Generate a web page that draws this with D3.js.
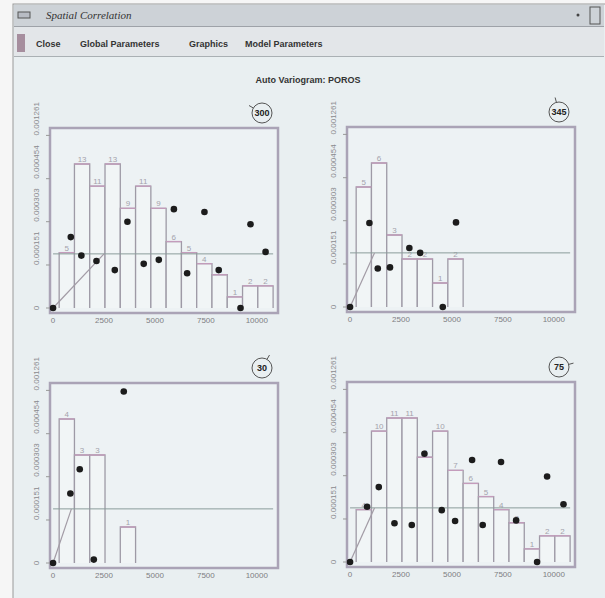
<!doctype html>
<html lang="en">
<head>
  <meta charset="utf-8">
  <title>Spatial Correlation</title>
  <script src="https://d3js.org/d3.v7.min.js"></script>
  <style type="text/css">
    body { margin: 0; background: #f6f6f6; }
    text { font-family: 'Liberation Sans', 'DejaVu Sans', sans-serif; }
  </style>
</head>
<body>
  <div id="chart"></div>
  <script type="text/javascript">

    // axis ticks shared by the four panels
    var xTicks = [0, 2500, 5000, 7500, 10000];
    var yTicks = [0, 0.000151, 0.000303, 0.000454, 0.000606];
    var yTickLabels = ['0', '0.000151', '0.000303', '0.000454', '0.001261'];

    // lag classes (bar edges), same for all directions
    var lagEdges = [300, 1050, 1800, 2550, 3300, 4050, 4800, 5550, 6300, 7050, 7800, 8550, 9300, 10050, 10800];

    // sample variance (sill line)
    var sill = 0.00019;

    // direction 300
    var count300 = [5, 13, 11, 13, 9, 11, 9, 6, 5, 4, 3, 1, 2, 2];
    var lag300 = [0, 870, 1390, 2130, 3030, 3650, 4450, 5190, 5930, 6580, 7430, 8130, 9200, 9690, 10430];
    var gamma300 = [0, 0.000249, 0.000184, 0.000165, 0.000133, 0.000303, 0.000155, 0.000169, 0.000347, 0.000122, 0.000337, 0.000133, 0, 0.000294, 0.000197];

    // direction 345
    var count345 = [5, 6, 3, 2, 2, 1, 2];
    var lag345 = [0, 950, 1360, 1960, 2910, 3440, 4550, 5200];
    var gamma345 = [0, 0.000295, 0.000135, 0.000139, 0.000207, 0.00019, 0, 0.000297];

    // direction 30
    var count30 = [4, 3, 3, 0, 1];
    var lag30 = [0, 850, 1310, 2000, 3470];
    var gamma30 = [0, 0.000244, 0.000329, 0.000012, 0.000602];

    // direction 75
    var count75 = [4, 10, 11, 11, 8, 10, 7, 6, 5, 4, 3, 1, 2, 2];
    var lag75 = [0, 835, 1410, 2180, 3030, 3650, 4500, 5155, 5990, 6510, 7410, 8150, 9180, 9670, 10475];
    var gamma75 = [0, 0.000194, 0.000263, 0.000136, 0.00013, 0.00038, 0.000182, 0.000144, 0.000358, 0.00013, 0.000351, 0.000146, 0, 0.0003, 0.000203];

    // model ranges (linear rise to the sill) per direction
    var modelRange = {300: 2500, 345: 1200, 30: 900, 75: 1200};

    var width = 605, height = 598;
    var boxW = 228, boxH = 185, base = 180;

    var svg = d3.select('#chart')
      .append('svg')
      .attr('width', width)
      .attr('height', height);

    svg.append('rect').attr('width', width).attr('height', height).attr('fill', '#f6f6f6');

    // window frame
    svg.append('rect')
      .attr('x', 13).attr('y', 4).attr('width', 600).attr('height', 600)
      .attr('fill', '#e9eff1').attr('stroke', '#9a9a9a');

    // title bar
    svg.append('rect')
      .attr('x', 14).attr('y', 5).attr('width', 590).attr('height', 21)
      .attr('fill', '#cdd2d7');
    svg.append('line')
      .attr('x1', 14).attr('x2', 604).attr('y1', 26.5).attr('y2', 26.5)
      .attr('stroke', '#9ea2a8');
    svg.append('rect')
      .attr('x', 18).attr('y', 12).attr('width', 12).attr('height', 6)
      .attr('fill', '#b8bcc4').attr('stroke', '#555');
    svg.append('text')
      .attr('x', 46).attr('y', 19)
      .text('Spatial Correlation')
      .style('font-family', "'Liberation Serif', serif")
      .style('font-style', 'italic')
      .style('font-size', '11px')
      .attr('fill', '#333');
    svg.append('circle').attr('cx', 578).attr('cy', 15).attr('r', 1.5).attr('fill', '#444');
    svg.append('rect')
      .attr('x', 590).attr('y', 7).attr('width', 10).attr('height', 17)
      .attr('fill', 'none').attr('stroke', '#555');

    // menu bar
    svg.append('rect')
      .attr('x', 14).attr('y', 27).attr('width', 590).attr('height', 29)
      .attr('fill', '#e3e6e9');
    svg.append('line')
      .attr('x1', 14).attr('x2', 604).attr('y1', 56.5).attr('y2', 56.5)
      .attr('stroke', '#aab0b4');
    svg.append('rect')
      .attr('x', 17).attr('y', 34).attr('width', 8).attr('height', 18)
      .attr('fill', '#a68e9e');

    var menu = [['Close', 36], ['Global Parameters', 80], ['Graphics', 189], ['Model Parameters', 245]];
    svg.selectAll('.menu')
      .data(menu)
      .enter().append('text')
      .attr('class', 'menu')
      .attr('x', function(d) { return d[1]; })
      .attr('y', 47)
      .text(function(d) { return d[0]; })
      .style('font-size', '9px')
      .style('font-weight', 'bold')
      .attr('fill', '#333');

    svg.append('text')
      .attr('x', 308).attr('y', 83)
      .attr('text-anchor', 'middle')
      .text('Auto Variogram: POROS')
      .style('font-size', '9px')
      .style('font-weight', 'bold')
      .attr('fill', '#333');

    var panels = [
      {dir: 300, x: 50, y: 128, counts: count300, lags: lag300, gammas: gamma300},
      {dir: 345, x: 347, y: 127, counts: count345, lags: lag345, gammas: gamma345},
      {dir: 30, x: 50, y: 383, counts: count30, lags: lag30, gammas: gamma30},
      {dir: 75, x: 347, y: 382, counts: count75, lags: lag75, gammas: gamma75}
    ];

    panels.forEach(function(p) { drawPanel(p); });

    function drawPanel(p) {
      var g = svg.append('g').attr('transform', 'translate(' + p.x + ',' + p.y + ')');

      var x = d3.scaleLinear().domain([-150, 11040]).range([0, boxW]);
      var yv = d3.scaleLinear().domain([0, 0.000632]).range([base, base - 180]);
      var yc = d3.scaleLinear().domain([0, d3.max(p.counts) * 1.25]).range([base, base - 180]);

      // plot box
      g.append('rect')
        .attr('width', boxW).attr('height', boxH)
        .attr('fill', '#edf2f4')
        .attr('stroke', '#aaa3b6').attr('stroke-width', 2.5);

      // pair count bars
      var bars = p.counts.map(function(c, i) {
        return {c: c, x0: lagEdges[i], x1: lagEdges[i + 1]};
      }).filter(function(d) { return d.c > 0; });

      g.selectAll('.bar')
        .data(bars)
        .enter().append('path')
        .attr('class', 'bar')
        .attr('d', function(d) {
          return 'M' + x(d.x0) + ',' + base + 'V' + yc(d.c) + 'H' + x(d.x1) + 'V' + base;
        })
        .attr('fill', '#f1f5f6')
        .attr('stroke', '#9e9aa6').attr('stroke-width', 1.3);

      g.selectAll('.bartop')
        .data(bars)
        .enter().append('line')
        .attr('x1', function(d) { return x(d.x0); })
        .attr('x2', function(d) { return x(d.x1); })
        .attr('y1', function(d) { return yc(d.c); })
        .attr('y2', function(d) { return yc(d.c); })
        .attr('stroke', '#c49cbc').attr('stroke-width', 1.3);

      g.selectAll('.count')
        .data(bars)
        .enter().append('text')
        .attr('x', function(d) { return (x(d.x0) + x(d.x1)) / 2; })
        .attr('y', function(d) { return yc(d.c) - 2; })
        .attr('text-anchor', 'middle')
        .text(function(d) { return d.c; })
        .style('font-size', '8px')
        .attr('fill', '#a4a2ac');

      // sill line
      g.append('line')
        .attr('x1', x(0)).attr('x2', x(10800))
        .attr('y1', yv(sill)).attr('y2', yv(sill))
        .attr('stroke', '#8b9c9b').attr('stroke-width', 1);

      // model
      var model = [[0, 0], [modelRange[p.dir], sill]];
      g.append('path')
        .datum(model)
        .attr('d', d3.line().x(function(d) { return x(d[0]); }).y(function(d) { return yv(d[1]); }))
        .attr('fill', 'none')
        .attr('stroke', '#a39ca6').attr('stroke-width', 1.2);

      // experimental variogram points
      g.selectAll('.dot')
        .data(p.lags)
        .enter().append('circle')
        .attr('cx', function(d) { return x(d); })
        .attr('cy', function(d, i) { return yv(p.gammas[i]); })
        .attr('r', 3.3)
        .attr('fill', '#1c1c1c');

      // y axis: rotated labels starting at each tick
      g.selectAll('.ytick')
        .data(yTicks)
        .enter().append('line')
        .attr('x1', -4).attr('x2', 0)
        .attr('y1', function(d) { return yv(d); })
        .attr('y2', function(d) { return yv(d); })
        .attr('stroke', '#999');

      g.selectAll('.ylab')
        .data(yTicks)
        .enter().append('text')
        .attr('transform', function(d) { return 'translate(-11,' + yv(d) + ') rotate(-90)'; })
        .attr('text-anchor', function(d, i) { return i === 0 ? 'middle' : 'start'; })
        .text(function(d, i) { return yTickLabels[i]; })
        .style('font-size', '8px')
        .attr('fill', '#8a8a8e');

      // x axis labels
      g.selectAll('.xlab')
        .data(xTicks)
        .enter().append('text')
        .attr('x', function(d) { return x(d); })
        .attr('y', boxH + 10)
        .attr('text-anchor', 'middle')
        .text(function(d) { return d; })
        .style('font-size', '8px')
        .attr('fill', '#7e7e82');

      // direction marker
      var cx = 212, cy = -15, r = 10;
      var a = p.dir * Math.PI / 180;
      g.append('circle')
        .attr('cx', cx).attr('cy', cy).attr('r', r)
        .attr('fill', 'none').attr('stroke', '#555');
      g.append('line')
        .attr('x1', cx + r * Math.sin(a)).attr('y1', cy - r * Math.cos(a))
        .attr('x2', cx + (r + 5) * Math.sin(a)).attr('y2', cy - (r + 5) * Math.cos(a))
        .attr('stroke', '#555');
      g.append('text')
        .attr('x', cx).attr('y', cy + 3)
        .attr('text-anchor', 'middle')
        .text(p.dir)
        .style('font-size', '9px')
        .style('font-weight', 'bold')
        .attr('fill', '#222');
    }

  </script>
</body>
</html>
